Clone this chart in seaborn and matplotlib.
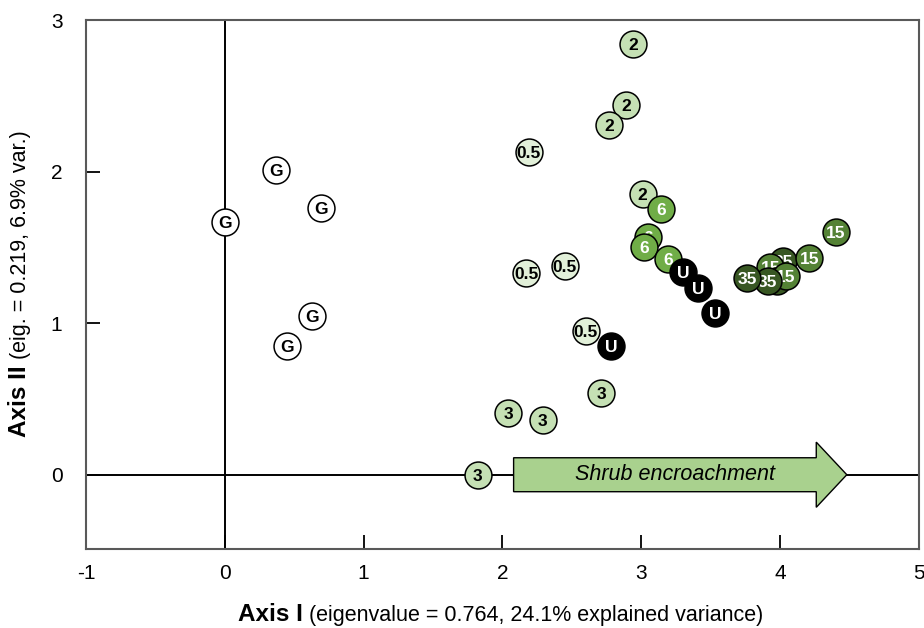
import matplotlib
matplotlib.use("Agg")
import matplotlib.pyplot as plt
import seaborn as sns
from matplotlib.patches import FancyArrow

# Ordination scores (axis I, axis II) per plot, grouped by stand age class.
# Points are listed in drawing order (back to front).
labels = ["G", "G", "G", "G", "G",
          "0.5", "0.5", "0.5", "0.5",
          "3", "3", "3", "3",
          "2", "2", "2", "2",
          "6", "6", "6", "6",
          "U", "U", "U", "U",
          "35", "15", "15", "35", "15", "35", "35", "15"]
axis1 = [0.00, 0.37, 0.69, 0.63, 0.45,
         2.19, 2.17, 2.45, 2.60,
         1.82, 2.04, 2.29, 2.71,
         2.94, 2.89, 2.77, 3.01,
         3.14, 3.05, 3.02, 3.19,
         3.30, 3.41, 3.53, 2.78,
         4.02, 3.93, 4.21, 3.98, 4.04, 3.91, 3.76, 4.40]
axis2 = [1.67, 2.01, 1.76, 1.05, 0.85,
         2.13, 1.33, 1.38, 0.95,
         0.00, 0.41, 0.36, 0.54,
         2.84, 2.44, 2.31, 1.85,
         1.75, 1.57, 1.50, 1.42,
         1.34, 1.23, 1.07, 0.85,
         1.41, 1.37, 1.43, 1.28, 1.31, 1.28, 1.30, 1.60]

face_colors = {"G": "#ffffff", "0.5": "#e2f0d9", "2": "#c5e0b4", "3": "#c5e0b4",
               "6": "#70ad47", "15": "#548235", "35": "#385723", "U": "#000000"}
text_colors = {"G": "black", "0.5": "black", "2": "black", "3": "black",
               "6": "white", "15": "white", "35": "white", "U": "white"}

x_ticks = [-1, 0, 1, 2, 3, 4, 5]
y_ticks = [0, 1, 2, 3]

sns.set_theme(style="white")
plt.rcParams["font.family"] = ["Liberation Sans", "DejaVu Sans"]
plt.rcParams["text.color"] = "black"

fig = plt.figure(figsize=(9.24, 6.28), dpi=100)
ax = fig.add_axes([86 / 924, 79 / 628, 833 / 924, 529 / 628])

# reference lines through the origin
ax.axhline(0, color="black", lw=1.4, zorder=1)
ax.axvline(0, color="black", lw=1.4, zorder=1)

# gradient arrow along axis I
arrow = FancyArrow(2.08, 0.0, 2.40, 0.0, width=0.224, head_width=0.43,
                   head_length=0.22, length_includes_head=True,
                   facecolor="#a9d18e", edgecolor="black", lw=1.0, zorder=1.5)
ax.add_patch(arrow)
ax.text(3.24, 0.0, "Shrub encroachment", style="italic", fontsize=15.5,
        ha="center", va="center", color="black", zorder=1.6)

# each plot as a labelled disc, stacked in list order
for i, (lab, x, y) in enumerate(zip(labels, axis1, axis2)):
    z = 3 + 2 * i
    sns.scatterplot(x=[x], y=[y], ax=ax, s=375, color=face_colors[lab],
                    edgecolor="black", linewidth=1.1, legend=False, zorder=z)
    ax.text(x, y, lab, ha="center", va="center_baseline", fontsize=12.5,
            fontweight="bold", color=text_colors[lab], zorder=z + 1)

ax.set_xlim(-1, 5)
ax.set_ylim(-0.49, 3)
ax.set_xticks(x_ticks)
ax.set_yticks(y_ticks)
ax.set_xticklabels([str(t) for t in x_ticks])
ax.set_yticklabels([str(t) for t in y_ticks])
ax.tick_params(axis="both", direction="in", length=10, width=1.3,
               color="black", labelsize=15, labelcolor="black",
               bottom=True, left=True, top=False, right=False)
ax.tick_params(axis="x", pad=11)
ax.tick_params(axis="y", pad=17)
ax.set_xlabel("")
ax.set_ylabel("")
for sp in ax.spines.values():
    sp.set_color("#595959")
    sp.set_linewidth(1.5)
    sp.set_visible(True)

# axis titles: bold axis name followed by plain eigenvalue details
t1 = fig.text(238 / 924, 1 - 621 / 628, "Axis I", fontsize=17.5, fontweight="bold",
              ha="left", va="baseline", color="black")
ax.annotate(" (eigenvalue = 0.764, 24.1% explained variance)",
            xy=(1, 0), xycoords=t1, fontsize=15.5, ha="left", va="bottom",
            color="black", annotation_clip=False)

t3 = fig.text(31 / 924, 1 - 437 / 628, "Axis II", fontsize=17.5, fontweight="bold",
              rotation=90, ha="right", va="bottom", color="black")
ax.annotate(" (eig. = 0.219, 6.9% var.)", xy=(1, 1), xycoords=t3,
            fontsize=15.5, rotation=90, ha="right", va="bottom",
            color="black", annotation_clip=False)

fig.savefig("out.png", dpi=100)
